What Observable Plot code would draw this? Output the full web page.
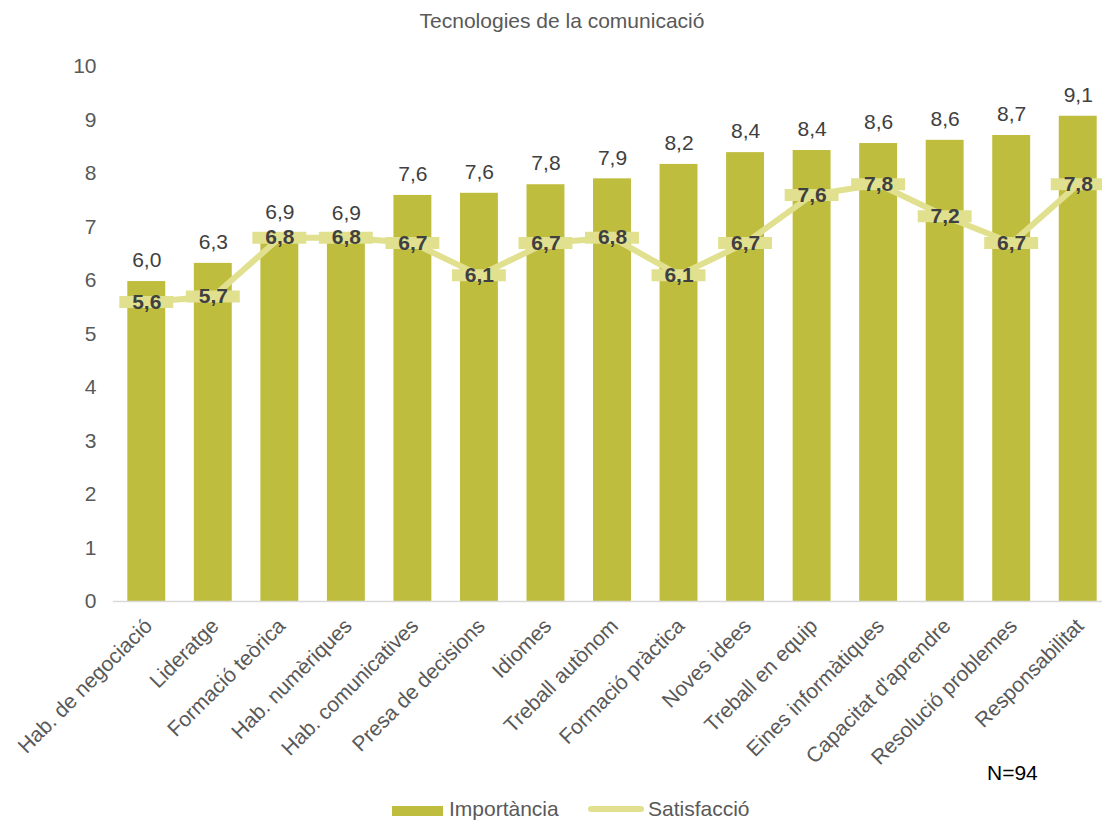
<!DOCTYPE html>
<html>
<head>
<meta charset="utf-8">
<script src="https://cdn.jsdelivr.net/npm/d3@7"></script>
<script src="https://cdn.jsdelivr.net/npm/@observablehq/plot@0.6"></script>
<style>
  body { margin: 0; background: #fff; font-family: "Liberation Sans", Arial, sans-serif; }
  #wrap { position: relative; width: 1102px; height: 820px; overflow: hidden; }
  #wrap svg { position: absolute; left: 0; top: 0; }
  .abs { position: absolute; white-space: nowrap; line-height: 21px; font-size: 21px; }
</style>
</head>
<body>
<div id="wrap">
  <div id="chart"></div>
  <div class="abs" style="left:262px; top:10px; width:600px; text-align:center; color:#595959;">Tecnologies de la comunicació</div>
  <div class="abs" style="left:987px; top:762px; color:#000;">N=94</div>
  <div class="abs" style="left:392px; top:806px; width:51px; height:10px; background:#bebd3d;"></div>
  <div class="abs" style="left:449px; top:798px; color:#595959;">Importància</div>
  <div class="abs" style="left:588px; top:806px; width:56px; height:6px; border-radius:3px; background:#e1e08f;"></div>
  <div class="abs" style="left:648px; top:798px; color:#595959;">Satisfacció</div>
</div>
<script>
const categories = [
  "Hab. de negociació", "Lideratge", "Formació teòrica", "Hab. numèriques",
  "Hab. comunicatives", "Presa de decisions", "Idiomes", "Treball autònom",
  "Formació pràctica", "Noves idees", "Treball en equip", "Eines informàtiques",
  "Capacitat d'aprendre", "Resolució problemes", "Responsabilitat"
];
const importancia = [5.98, 6.32, 6.88, 6.86, 7.59, 7.63, 7.79, 7.90, 8.17, 8.39, 8.43, 8.56, 8.62, 8.71, 9.07];
const satisfaccio = [5.6, 5.7, 6.8, 6.8, 6.7, 6.1, 6.7, 6.8, 6.1, 6.7, 7.6, 7.8, 7.2, 6.7, 7.8];
const yTicks = [0, 1, 2, 3, 4, 5, 6, 7, 8, 9, 10];

const barColor = "#bebd3d";
const lineColor = "#e1e08f";
const fmt = d => d.toFixed(1).replace(".", ",");

const impData = categories.map((c, i) => ({cat: c, v: importancia[i]}));
const satData = categories.map((c, i) => ({cat: c, v: satisfaccio[i]}));

const chart = Plot.plot({
  width: 1102,
  height: 820,
  marginTop: 66,
  marginBottom: 219,
  marginLeft: 113,
  marginRight: 0,
  style: {fontFamily: "'Liberation Sans', Arial, sans-serif", background: "transparent"},
  x: {type: "band", domain: categories, range: [113, 1111], paddingInner: 0.43, paddingOuter: 0.215, round: false, axis: null},
  y: {domain: [0, 10], axis: null},
  marks: [
    Plot.barY(impData, {x: "cat", y: "v", fill: barColor}),
    Plot.ruleY([0], {stroke: "#d9d9d9", strokeWidth: 1.5}),
    Plot.axisY(yTicks, {tickSize: 0, tickPadding: 17, fontSize: 21, fill: "#595959", label: null, tickFormat: d => String(d)}),
    Plot.text(categories, {x: d => d, frameAnchor: "bottom", rotate: -45, textAnchor: "end", lineAnchor: "middle", dy: 21, dx: 2, fontSize: 21, fill: "#595959"}),
    Plot.line(satData, {x: "cat", y: "v", stroke: lineColor, strokeWidth: 6}),
    Plot.tickY(satData, {x: "cat", y: "v", stroke: lineColor, strokeWidth: 12, insetLeft: -8, insetRight: -8}),
    Plot.text(satData, {x: "cat", y: "v", text: d => fmt(d.v), fontSize: 21, fontWeight: "bold", fill: "#404040"}),
    Plot.text(impData, {x: "cat", y: "v", text: d => fmt(d.v), dy: -21, fontSize: 21, fill: "#404040"})
  ]
});
document.getElementById("chart").appendChild(chart);
</script>
</body>
</html>
